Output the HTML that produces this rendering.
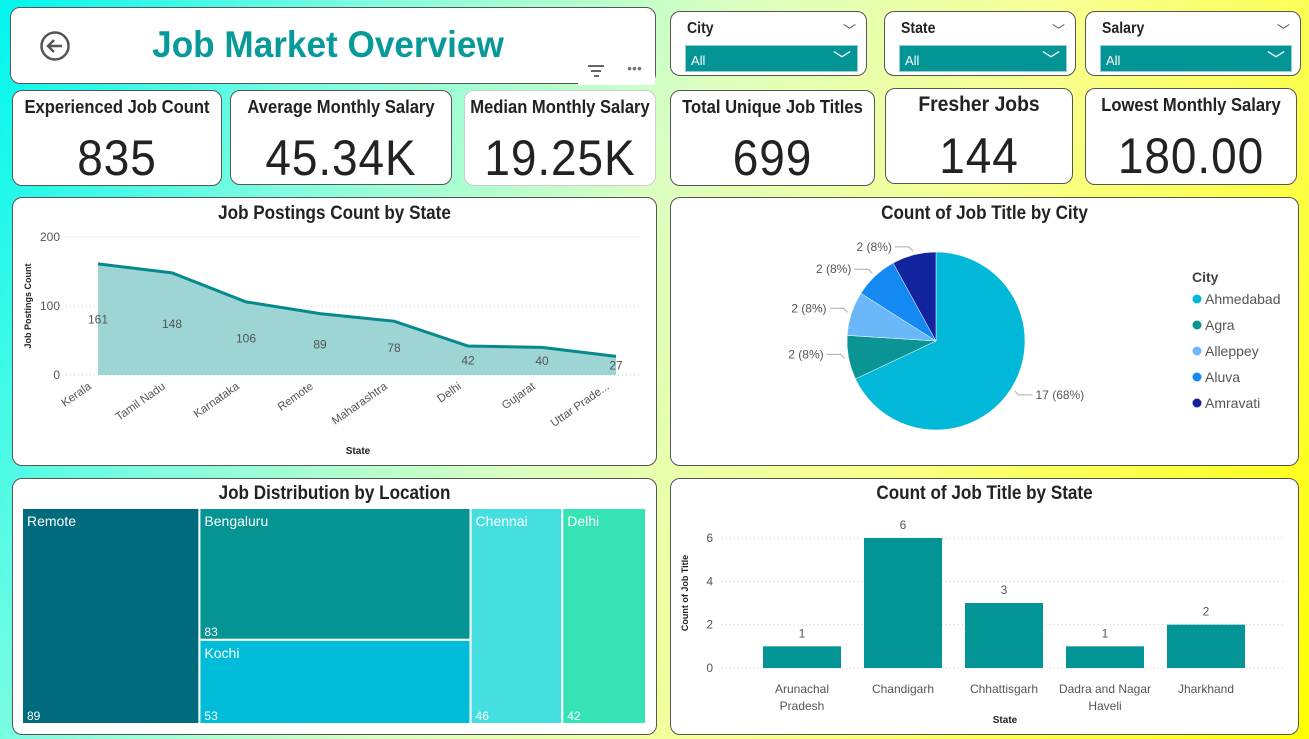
<!DOCTYPE html>
<html><head><meta charset="utf-8">
<style>
*{box-sizing:border-box;margin:0;padding:0}
body{width:1309px;height:739px;overflow:hidden;position:relative;font-family:"Liberation Sans",sans-serif;
background:linear-gradient(115deg,#00f6ee 0%,#7ffde0 22%,#dcffc0 45%,#f8ff90 65%,#ffff00 100%);}
.card{position:absolute;background:#fff;border:1px solid #555;border-radius:10px;}
.kpi .t{position:absolute;left:-20px;right:-20px;top:6px;text-align:center;font-weight:bold;font-size:18px;color:#222;white-space:nowrap;transform:scaleX(0.92)}
.kpi .v{position:absolute;left:-30px;right:-30px;top:38px;text-align:center;font-size:50px;color:#222;letter-spacing:1px;white-space:nowrap;transform:scaleX(0.92)}
.sl .lab{position:absolute;left:16px;top:8px;font-weight:bold;font-size:16px;color:#222;transform:scaleX(0.88);transform-origin:left}
.sl .car{position:absolute;right:10px;top:8px;font-size:13px;color:#555}
.sl .dd{position:absolute;left:14px;right:8px;top:33px;height:27px;background:#039596;border:1px solid #9cc;color:#fff;font-size:13px;padding:7px 0 0 5px}
.sl .dd span{position:absolute;right:6px;top:0px;font-size:18px}
.ct{position:absolute;left:-20px;right:-20px;top:5px;text-align:center;font-weight:bold;font-size:19px;color:#222;transform:scaleX(0.9)}
svg text{font-family:"Liberation Sans",sans-serif}
</style></head><body>

<div class="card" style="left:10px;top:7px;width:646px;height:77px">
  <svg style="position:absolute;left:28px;top:22px" width="32" height="32"><circle cx="16" cy="16" r="13.5" fill="none" stroke="#555" stroke-width="2.5"/><path d="M23 16H9M15 10l-6 6 6 6" fill="none" stroke="#555" stroke-width="2.5"/></svg>
  <div style="position:absolute;left:0;right:0;top:16px;text-align:center;font-weight:bold;font-size:37px;color:#08999a;margin-left:-10px;transform:scaleX(0.95)">Job Market Overview</div>
</div>
<div style="position:absolute;left:578px;top:57px;width:36px;height:28px;background:#fff"><div style="position:absolute;left:10px;top:8px;width:16px;height:1.5px;background:#666"></div><div style="position:absolute;left:13px;top:13px;width:10px;height:1.5px;background:#666"></div><div style="position:absolute;left:16px;top:18px;width:5px;height:1.5px;background:#666"></div></div>
<div style="position:absolute;left:614px;top:57px;width:41px;height:28px;background:#fff;color:#777;font-size:14px;text-align:center;line-height:22px">•••</div>

<div class="card sl" style="left:670px;top:11px;width:197px;height:65px"><div class="lab">City</div><div class="car">﹀</div><div class="dd">All<span>﹀</span></div></div>
<div class="card sl" style="left:884px;top:11px;width:192px;height:65px"><div class="lab">State</div><div class="car">﹀</div><div class="dd">All<span>﹀</span></div></div>
<div class="card sl" style="left:1085px;top:11px;width:216px;height:65px"><div class="lab">Salary</div><div class="car">﹀</div><div class="dd">All<span>﹀</span></div></div>

<div class="card kpi" style="left:12px;top:90px;width:210px;height:96px"><div class="t">Experienced Job Count</div><div class="v">835</div></div>
<div class="card kpi" style="left:230px;top:90px;width:222px;height:95px"><div class="t">Average Monthly Salary</div><div class="v">45.34K</div></div>
<div class="card kpi" style="left:464px;top:90px;width:192px;height:96px;border-color:#ccc"><div class="t">Median Monthly Salary</div><div class="v">19.25K</div></div>
<div class="card kpi" style="left:670px;top:90px;width:205px;height:96px"><div class="t">Total Unique Job Titles</div><div class="v">699</div></div>
<div class="card kpi" style="left:885px;top:88px;width:188px;height:96px"><div class="t" style="font-size:21px;top:4px">Fresher Jobs</div><div class="v">144</div></div>
<div class="card kpi" style="left:1085px;top:88px;width:212px;height:97px"><div class="t" style="top:6px">Lowest Monthly Salary</div><div class="v">180.00</div></div>

<div class="card" style="left:12px;top:197px;width:645px;height:269px"><div class="ct">Job Postings Count by State</div></div>
<div class="card" style="left:670px;top:197px;width:629px;height:269px"><div class="ct">Count of Job Title by City</div></div>
<div class="card" style="left:12px;top:478px;width:645px;height:257px"><div class="ct" style="top:4px">Job Distribution by Location</div></div>
<div class="card" style="left:670px;top:478px;width:629px;height:257px"><div class="ct" style="top:4px">Count of Job Title by State</div></div>

<svg id="chart" style="position:absolute;left:0;top:0" width="1309" height="739"></svg>

<script>
const lineStates=["Kerala","Tamil Nadu","Karnataka","Remote","Maharashtra","Delhi","Gujarat","Uttar Prade..."];
const lineValues=[161,148,106,89,78,42,40,27];
const lineTicks=[0,100,200];
const pieCities=["Ahmedabad","Agra","Alleppey","Aluva","Amravati"];
const pieValues=[17,2,2,2,2];
const treeNames=["Remote","Bengaluru","Kochi","Chennai","Delhi"];
const treeValues=[89,83,53,46,42];
const barStates=[["Arunachal","Pradesh"],["Chandigarh"],["Chhattisgarh"],["Dadra and Nagar","Haveli"],["Jharkhand"]];
const barValues=[1,6,3,1,2];
const barTicks=[0,2,4,6];

const svg=document.getElementById('chart');
const NS='http://www.w3.org/2000/svg';
function mk(tag,attrs,parent){const e=document.createElementNS(NS,tag);for(const k in attrs)e.setAttribute(k,attrs[k]);(parent||svg).appendChild(e);return e;}
function txt(s,attrs){const e=mk('text',attrs);e.textContent=s;return e;}

// line/area chart
const ly=v=>375-v*(375-237)/200;
const lx=i=>98+i*(616-98)/(lineValues.length-1);
lineTicks.forEach(t=>{
  const g=mk('line',{x1:66,x2:642,y1:ly(t),y2:ly(t),stroke:'#ccc','stroke-dasharray':'1 3'});
  
  const l=txt(t,{x:60,y:ly(t)+4,'text-anchor':'end','font-size':12,fill:'#555'});
  
});
let pts=lineValues.map((v,i)=>lx(i)+','+ly(v)).join(' ');
const area=mk('polygon',{points:lx(0)+','+ly(0)+' '+pts+' '+lx(lineValues.length-1)+','+ly(0),fill:'#9dd4d4'});

const pl=mk('polyline',{points:pts,fill:'none',stroke:'#06898c','stroke-width':3});

lineValues.forEach((v,i)=>{
  const d=txt(v,{x:lx(i),y:(ly(v)+ly(0))/2+4,'text-anchor':'middle','font-size':12,fill:'#555'});
  
  const x=txt(lineStates[i],{x:lx(i)-6,y:388,'text-anchor':'end','font-size':11.5,fill:'#555',transform:`rotate(-35 ${lx(i)-6} 388)`});
  
});
let yt=txt('Job Postings Count',{x:31,y:306,'text-anchor':'middle','font-size':9,'font-weight':'bold',fill:'#222',transform:'rotate(-90 31 306)'});

let xt=txt('State',{x:358,y:454,'text-anchor':'middle','font-size':10,'font-weight':'bold',fill:'#222'});


// pie
const pieColors=['#01b8d8','#0a9494','#6ab8fa','#1489f2','#12239e'];
const cx=936,cy=341,r=89;
const tot=pieValues.reduce((a,b)=>a+b,0);
let a0=0;
pieValues.forEach((v,i)=>{
  const a1=a0+v/tot*Math.PI*2;
  const p=(a)=>[cx+r*Math.sin(a),cy-r*Math.cos(a)];
  const [x0,y0]=p(a0),[x1,y1]=p(a1);
  const s=mk('path',{d:`M${cx},${cy}L${x0},${y0}A${r},${r} 0 ${a1-a0>Math.PI?1:0} 1 ${x1},${y1}Z`,fill:pieColors[i],stroke:'#fff','stroke-width':0.5});
  
  const am=(a0+a1)/2;
  const ex=cx+(r+4)*Math.sin(am),ey=cy-(r+4)*Math.cos(am);
  const left=Math.sin(am)<0;
  const lx2=ex+(left?-12:12), ly2=ey-(left?4:-4);
  const ln=mk('polyline',{points:`${ex},${ey} ${ex+(left?-4:4)},${ly2} ${lx2+(left?-6:6)},${ly2}`,fill:'none',stroke:'#aaa'});
  
  const pct=Math.round(v/tot*100);
  const lt=txt(`${v} (${pct}%)`,{x:lx2+(left?-9:9),y:ly2+4,'text-anchor':left?'end':'start','font-size':12,fill:'#555'});
  
  a0=a1;
});
let lg=txt('City',{x:1192,y:282,'font-size':14,'font-weight':'bold',fill:'#444'});

pieCities.forEach((c,i)=>{
  const y=299+i*26;
  const d=mk('circle',{cx:1197,cy:y,r:4.5,fill:pieColors[i]});
  
  const t=txt(c,{x:1205,y:y+5,'font-size':14,fill:'#555'});
  
});

// treemap
const treeColors=['#006b7d','#049494','#00bcd8','#45dfe0','#35e3b5'];
const TX=22,TY=508,TW=624,TH=216;
const tsum=treeValues.reduce((a,b)=>a+b,0);
const cols=[[0],[1,2],[3],[4]];
let cxp=TX;
cols.forEach(col=>{
  const cs=col.reduce((a,i)=>a+treeValues[i],0);
  const w=cs/tsum*TW;
  let cyp=TY;
  col.forEach(i=>{
    const h=treeValues[i]/cs*TH;
    const rc=mk('rect',{x:cxp,y:cyp,width:w,height:h,fill:treeColors[i],stroke:'#fff','stroke-width':2});
    
    const n=txt(treeNames[i],{x:cxp+5,y:cyp+18,'font-size':14,fill:'#fff'});
    
    const vv=txt(treeValues[i],{x:cxp+5,y:cyp+h-4,'font-size':12,fill:'#fff'});
    
    cyp+=h;
  });
  cxp+=w;
});

// bar chart
const by=v=>668-v*(668-538)/6;
const bx=i=>802+i*101;
barTicks.forEach(t=>{
  const g=mk('line',{x1:722,x2:1284,y1:by(t),y2:by(t),stroke:'#ccc','stroke-dasharray':'1 3'});
  
  const l=txt(t,{x:713,y:by(t)+4,'text-anchor':'end','font-size':12,fill:'#555'});
  
});
barValues.forEach((v,i)=>{
  const b=mk('rect',{x:bx(i)-39,y:by(v),width:78,height:by(0)-by(v),fill:'#039596'});
  
  const d=txt(v,{x:bx(i),y:by(v)-9,'text-anchor':'middle','font-size':12,fill:'#555'});
  
  barStates[i].forEach((s,j)=>{
    const x=txt(s,{x:bx(i),y:693+j*17,'text-anchor':'middle','font-size':12,fill:'#555'});
    
  });
});
let byt=txt('Count of Job Title',{x:688,y:593,'text-anchor':'middle','font-size':9,'font-weight':'bold',fill:'#222',transform:'rotate(-90 688 593)'});

let bxt=txt('State',{x:1005,y:723,'text-anchor':'middle','font-size':10,'font-weight':'bold',fill:'#222'});

</script>
</body></html>
